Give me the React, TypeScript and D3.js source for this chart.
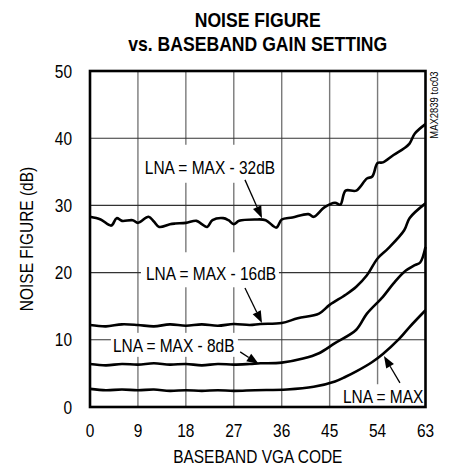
import { scaleLinear, line, curveCatmullRom } from "d3";

// BASEBAND VGA CODE -> NOISE FIGURE (dB)
const codeTicks = [0, 9, 18, 27, 36, 45, 54, 63];
const nfTicks = [0, 10, 20, 30, 40, 50];

const lnaMinus32: [number, number][] = [
  [0, 28.3], [2, 27.9], [4, 27.0], [5, 28.1], [6, 27.7], [8, 27.8], [9, 27.4],
  [11, 28.3], [12, 27.6], [13, 26.8], [15, 27.2], [16, 27.3], [18, 27.4],
  [20, 27.7], [21, 27.2], [22, 26.8], [23, 27.8], [25, 28.1], [26, 27.8],
  [27, 27.2], [28, 27.7], [31, 27.9], [33, 27.8], [35, 26.7], [36, 27.9],
  [38, 28.2], [41, 28.7], [42, 28.3], [44, 29.7], [46, 30.4], [47, 30.1],
  [48, 32.2], [50, 32.2], [52, 34.0], [53, 34.3], [54, 36.3], [55, 36.4],
  [57, 37.5], [59, 38.5], [60, 39.2], [61, 40.7], [63, 42.1],
];

const lnaMinus16: [number, number][] = [
  [0, 12.2], [3, 12.0], [6, 12.3], [9, 12.2], [12, 12.0], [15, 12.3],
  [18, 12.1], [21, 12.3], [24, 12.1], [27, 12.35], [30, 12.2], [32, 12.35],
  [36, 12.5], [39, 13.2], [43, 13.9], [45, 15.2], [48, 16.7], [50, 17.9],
  [52, 19.6], [54, 22.1], [56, 23.6], [59, 26.3], [60, 28.1], [63, 30.3],
];

const lnaMinus8: [number, number][] = [
  [0, 6.4], [3, 6.2], [6, 6.4], [9, 6.3], [12, 6.5], [15, 6.3], [18, 6.4],
  [21, 6.2], [24, 6.4], [27, 6.3], [30, 6.4], [32, 6.5], [36, 6.6],
  [40, 7.2], [43, 8.0], [46, 9.5], [50, 11.5], [52, 13.9], [55, 16.4],
  [57, 18.4], [59, 20.1], [61, 21.1], [62, 21.5], [63, 23.8],
];

const lnaMax: [number, number][] = [
  [0, 2.7], [3, 2.5], [6, 2.6], [9, 2.5], [12, 2.6], [15, 2.4], [18, 2.5],
  [21, 2.4], [24, 2.5], [27, 2.4], [31, 2.5], [37, 2.6], [42, 3.0],
  [46, 3.8], [48, 4.5], [50, 5.3], [53, 6.7], [55, 7.9], [58, 10.1],
  [60, 11.9], [63, 14.4],
];

const series = [lnaMinus32, lnaMinus16, lnaMinus8, lnaMax];

// label anchor, arrow start and arrow tip in data units
const annotations = [
  { text: "LNA = MAX - 32dB", at: [10.3, 35.6], from: [29.1, 33.8], tip: [32.3, 28.1], box: [-5, 135, -23, 15] },
  { text: "LNA = MAX - 16dB", at: [10.5, 19.9], from: [29.1, 17.7], tip: [32.3, 12.5], box: [-5, 133, -21, 14] },
  { text: "LNA = MAX - 8dB", at: [4.3, 9.1], from: [28.2, 8.2], tip: [31.7, 6.4], box: [-2, 125, -13, 11] },
  { text: "LNA = MAX", at: [47.5, 1.6], from: [58.2, 3.6], tip: [55.2, 7.6], box: [-5, 83, -12, 11] },
];

const W = 449;
const H = 470;
const m = { top: 71, right: 23.5, bottom: 63, left: 90 };
const FONT = "'Liberation Sans', Arial, Helvetica, sans-serif";
const SQ = 0.86; // narrow face

const T = ({ x, y, size = 18, anchor = "middle", bold = false, rotate = 0, sq = SQ, children }: any) => (
  <text
    transform={`translate(${x},${y}) rotate(${rotate}) scale(${sq},1)`}
    fontSize={size}
    fontWeight={bold ? "bold" : "normal"}
    textAnchor={anchor}
    fontFamily={FONT}
    fill="#000"
  >
    {children}
  </text>
);

export default function App() {
  const x = scaleLinear().domain([0, 63]).range([m.left, W - m.right]);
  const y = scaleLinear().domain([0, 50]).range([H - m.bottom, m.top]);

  const path = line<[number, number]>()
    .x((d) => x(d[0]))
    .y((d) => y(d[1]))
    .curve(curveCatmullRom.alpha(0.5));

  const arrow = (a: any) => {
    const x0 = x(a.from[0]), y0 = y(a.from[1]);
    const x1 = x(a.tip[0]), y1 = y(a.tip[1]);
    const ang = Math.atan2(y1 - y0, x1 - x0);
    const len = 12, hw = 4.5;
    const bx = x1 - len * Math.cos(ang), by = y1 - len * Math.sin(ang);
    const px = -Math.sin(ang) * hw, py = Math.cos(ang) * hw;
    return (
      <g>
        <line x1={x0} y1={y0} x2={bx} y2={by} stroke="#000" strokeWidth={1.3} />
        <polygon points={`${x1},${y1} ${bx + px},${by + py} ${bx - px},${by - py}`} fill="#000" />
      </g>
    );
  };

  return (
    <svg width={W} height={H} style={{ position: "absolute", left: 0, top: 0, background: "#fff" }}>
      {/* grid */}
      {codeTicks.slice(1, -1).map((t) => (
        <line key={"v" + t} x1={x(t)} x2={x(t)} y1={y(0)} y2={y(50)} stroke="#7a7a7a" strokeWidth={1.4} />
      ))}
      {nfTicks.slice(1, -1).map((t) => (
        <line key={"h" + t} x1={x(0)} x2={x(63)} y1={y(t)} y2={y(t)} stroke="#333" strokeWidth={1.1} />
      ))}

      {/* label backgrounds */}
      {annotations.map((a) => (
        <rect
          key={"b" + a.text}
          x={x(a.at[0]) + a.box[0]}
          y={y(a.at[1]) + a.box[2]}
          width={a.box[1] - a.box[0]}
          height={a.box[3] - a.box[2]}
          fill="#fff"
        />
      ))}

      {series.map((s, i) => (
        <path key={i} d={path(s) as string} fill="none" stroke="#000" strokeWidth={2.6} strokeLinejoin="round" />
      ))}

      {annotations.map((a) => (
        <g key={"a" + a.text}>
          {arrow(a)}
          <T x={x(a.at[0])} y={y(a.at[1]) + 6.5} anchor="start">{a.text}</T>
        </g>
      ))}

      {/* frame */}
      <rect x={x(0)} y={y(50)} width={x(63) - x(0)} height={y(0) - y(50)} fill="none" stroke="#000" strokeWidth={2.6} />

      {/* axes text */}
      {nfTicks.map((t) => (
        <T key={"yl" + t} x={m.left - 18} y={y(t) + 6.5} anchor="end">{t}</T>
      ))}
      {codeTicks.map((t) => (
        <T key={"xl" + t} x={x(t)} y={H - m.bottom + 30} anchor="middle">{t}</T>
      ))}
      <T x={(x(0) + x(63)) / 2} y={463}>BASEBAND VGA CODE</T>
      <T x={33} y={(y(0) + y(50)) / 2} rotate={-90}>NOISE FIGURE (dB)</T>

      <T x={(x(0) + x(63)) / 2} y={26.7} size={20} bold sq={0.88}>NOISE FIGURE</T>
      <T x={(x(0) + x(63)) / 2} y={50.7} size={20} bold sq={0.88}>vs. BASEBAND GAIN SETTING</T>

      <T x={438} y={105} size={11} rotate={-90}>MAX2839 toc03</T>
    </svg>
  );
}
